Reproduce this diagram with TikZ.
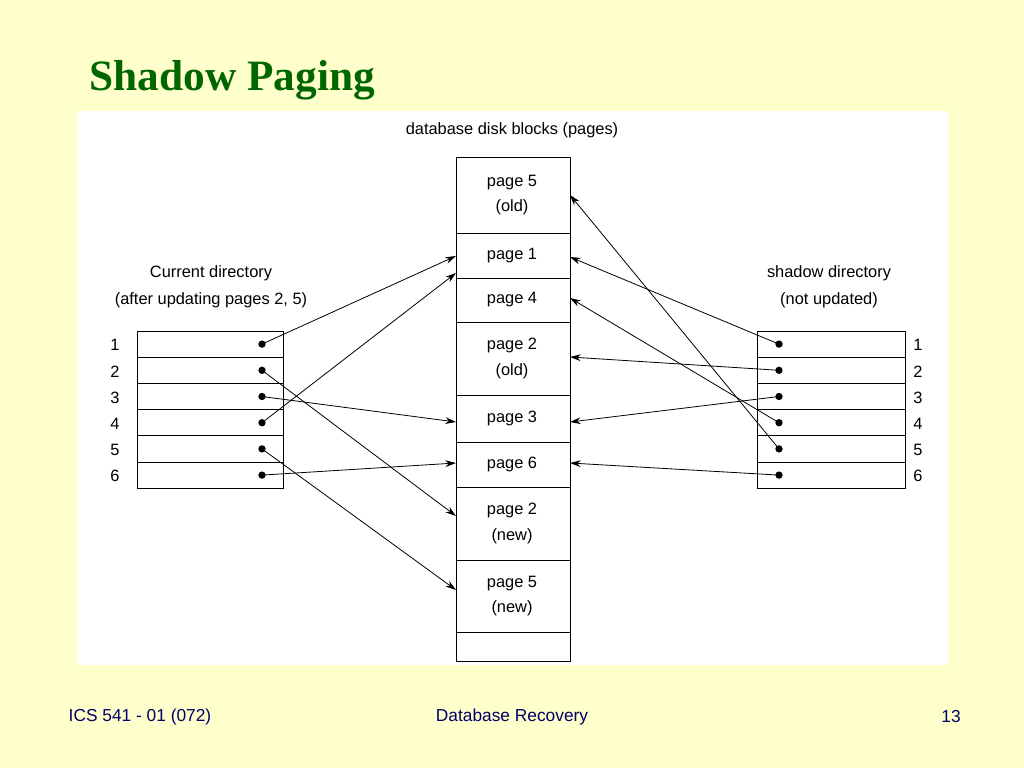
\documentclass[tikz,border=0pt]{standalone}
\usepackage{fontspec}
\setmainfont{Liberation Sans}
\newfontfamily\titlefont{Liberation Serif}
\usetikzlibrary{arrows.meta}
\definecolor{bg}{HTML}{FFFFCC}
\definecolor{ttl}{HTML}{006600}
\definecolor{foot}{HTML}{000066}
\begin{document}
\begin{tikzpicture}[x=0.75pt,y=-0.75pt,
  lbl/.style={font=\fontsize{12.3}{14}\selectfont,align=center,inner sep=0pt},
  cell/.style={draw,line width=0.6pt},
  dot/.style={circle,fill,inner sep=0pt,minimum size=5.5pt},
  ptr/.style={-{Stealth[length=8pt,width=5pt]},line width=0.6pt},
  ft/.style={font=\fontsize{13}{15}\selectfont,text=foot}]
\useasboundingbox (0,0) rectangle (1024,768);
\fill[bg] (0,0) rectangle (1024,768);
\fill[white] (77,111) rectangle (948,665);
\node[anchor=west,text=ttl,font=\titlefont\bfseries\fontsize{32.5}{36}\selectfont] (title) at (85,80) {Shadow Paging};
% center column
\foreach \a/\b/\n in {157/233/p5o,233/278/p1,278/322/p4,322/395/p2o,395/442/p3,442/487/p6,487/560/p2n,560/632/p5n,632/661/pe}
  {\draw[cell] (456,\a) rectangle (570,\b); \coordinate (\n) at (512,{(\a+\b)/2});}
\node[lbl] at (p5o) {page 5\\[5pt](old)};
\node[lbl] at (p1) {page 1};
\node[lbl] at (p4) {page 4};
\node[lbl] at (p2o) {page 2\\[5pt](old)};
\node[lbl] at (p3) {page 3};
\node[lbl] at (p6) {page 6};
\node[lbl] at (p2n) {page 2\\[5pt](new)};
\node[lbl] at (p5n) {page 5\\[5pt](new)};
\node[lbl] (hdr) at (512,130) {database disk blocks (pages)};
\node[lbl] (cur) at (211,287) {Current directory\\[6pt](after updating pages 2, 5)};
\node[lbl] (sh) at (829,287) {shadow directory\\[6pt](not updated)};
% directories
\foreach \i in {1,...,6}{
  \pgfmathsetmacro\ya{331+26.2*(\i-1)}
  \pgfmathsetmacro\yb{331+26.2*\i}
  \pgfmathsetmacro\ym{331+26.2*(\i-0.5)}
  \draw[cell] (137,\ya) rectangle (283,\yb);
  \draw[cell] (757,\ya) rectangle (905,\yb);
  \node[lbl] (ln\i) at (115,\ym+1) {\i};
  \node[lbl] (rn\i) at (918,\ym+1) {\i};
  \node[dot] (L\i) at (262,\ym) {};
  \node[dot] (R\i) at (779,\ym) {};
}
\coordinate (a1) at (456,256); \coordinate (a2) at (456,516);
\coordinate (a3) at (456,422); \coordinate (a4) at (456,273);
\coordinate (a5) at (456,590); \coordinate (a6) at (456,463);
\coordinate (b1) at (570,257); \coordinate (b2) at (570,357);
\coordinate (b3) at (570,422); \coordinate (b4) at (570,298);
\coordinate (b5) at (570,195); \coordinate (b6) at (570,463);
\foreach \i in {1,...,6}{
  \draw[ptr] (L\i.center) -- (a\i);
  \draw[ptr] (R\i.center) -- (b\i);
}
\node[ft] (f1) at (140,717) {ICS 541 - 01 (072)};
\node[ft] (f2) at (512,717) {Database Recovery};
\node[ft] (f3) at (951,717) {13};
\end{tikzpicture}
\end{document}
